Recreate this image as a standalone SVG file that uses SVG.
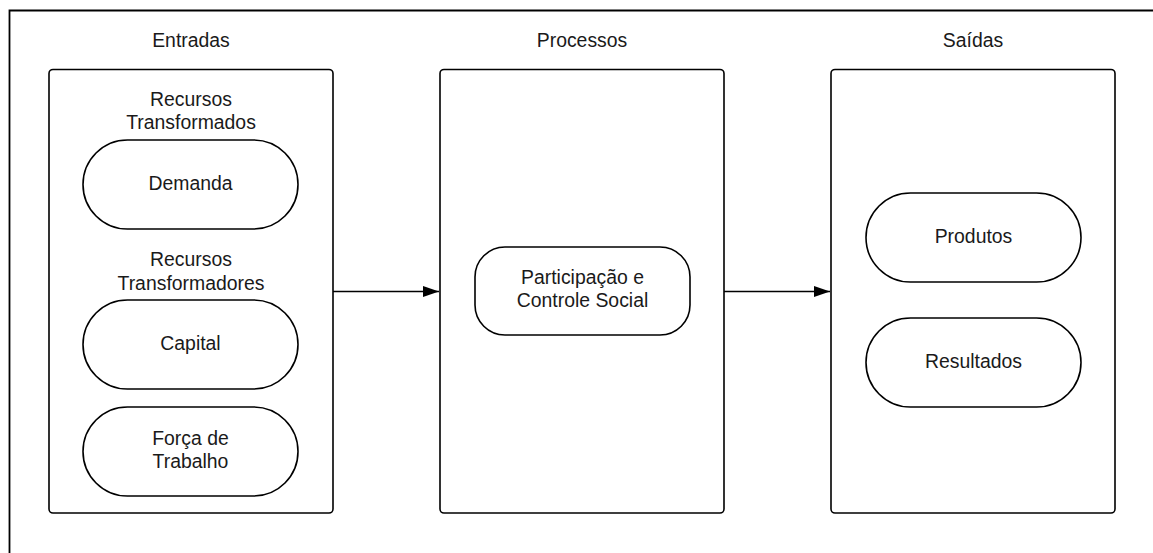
<svg xmlns="http://www.w3.org/2000/svg" width="1153" height="553" viewBox="0 0 1153 553">
<style>
text{font-family:"Liberation Sans",Arial,sans-serif;font-size:19.4px;fill:#1a1a1a;text-anchor:middle}
.box{fill:#fff;stroke:#000;stroke-width:1.6}
.pill{fill:#fff;stroke:#000;stroke-width:1.6}
.conn{stroke:#000;stroke-width:1.4;fill:none}
</style>
<defs>
<marker id="ah" markerUnits="userSpaceOnUse" markerWidth="18" markerHeight="12" refX="16" refY="6" orient="auto">
<path d="M0,0.5 L16,6 L0,11.5 Z" fill="#000"/>
</marker>
</defs>
<rect width="1153" height="553" fill="#fff"/>
<path d="M9.5,553 V10.5 H1153" fill="none" stroke="#000" stroke-width="1.8"/>
<g id="entradas">
<text x="191" y="47">Entradas</text>
<rect class="box" x="49" y="69.5" width="284" height="443.5" rx="4"/>
<text x="191" y="106">Recursos</text>
<text x="191" y="129">Transformados</text>
<text x="191" y="266">Recursos</text>
<text x="191" y="290">Transformadores</text>
</g>
<g id="demanda">
<rect class="pill" x="83" y="140" width="215" height="89" rx="44.5"/>
<text x="190.5" y="190">Demanda</text>
</g>
<g id="capital">
<rect class="pill" x="83" y="300" width="215" height="89" rx="44.5"/>
<text x="190.5" y="350">Capital</text>
</g>
<g id="forca">
<rect class="pill" x="83" y="407" width="215" height="89" rx="44.5"/>
<text x="190.5" y="445">Força de</text>
<text x="190.5" y="468">Trabalho</text>
</g>
<g id="processos">
<text x="582" y="47">Processos</text>
<rect class="box" x="440" y="69.5" width="284" height="443.5" rx="4"/>
</g>
<g id="participacao">
<rect class="pill" x="475" y="247" width="215" height="88" rx="30"/>
<text x="582.5" y="284">Participação e</text>
<text x="582.5" y="307">Controle Social</text>
</g>
<g id="saidas">
<text x="973" y="47">Saídas</text>
<rect class="box" x="831" y="69.5" width="284" height="443.5" rx="4"/>
</g>
<g id="produtos">
<rect class="pill" x="866" y="193" width="215" height="89" rx="44.5"/>
<text x="973.5" y="243">Produtos</text>
</g>
<g id="resultados">
<rect class="pill" x="866" y="318" width="215" height="89" rx="44.5"/>
<text x="973.5" y="368">Resultados</text>
</g>
<g id="connectors">
<line class="conn" x1="333" y1="291.5" x2="439" y2="291.5" marker-end="url(#ah)"/>
<line class="conn" x1="724" y1="291.5" x2="830" y2="291.5" marker-end="url(#ah)"/>
</g>
</svg>
